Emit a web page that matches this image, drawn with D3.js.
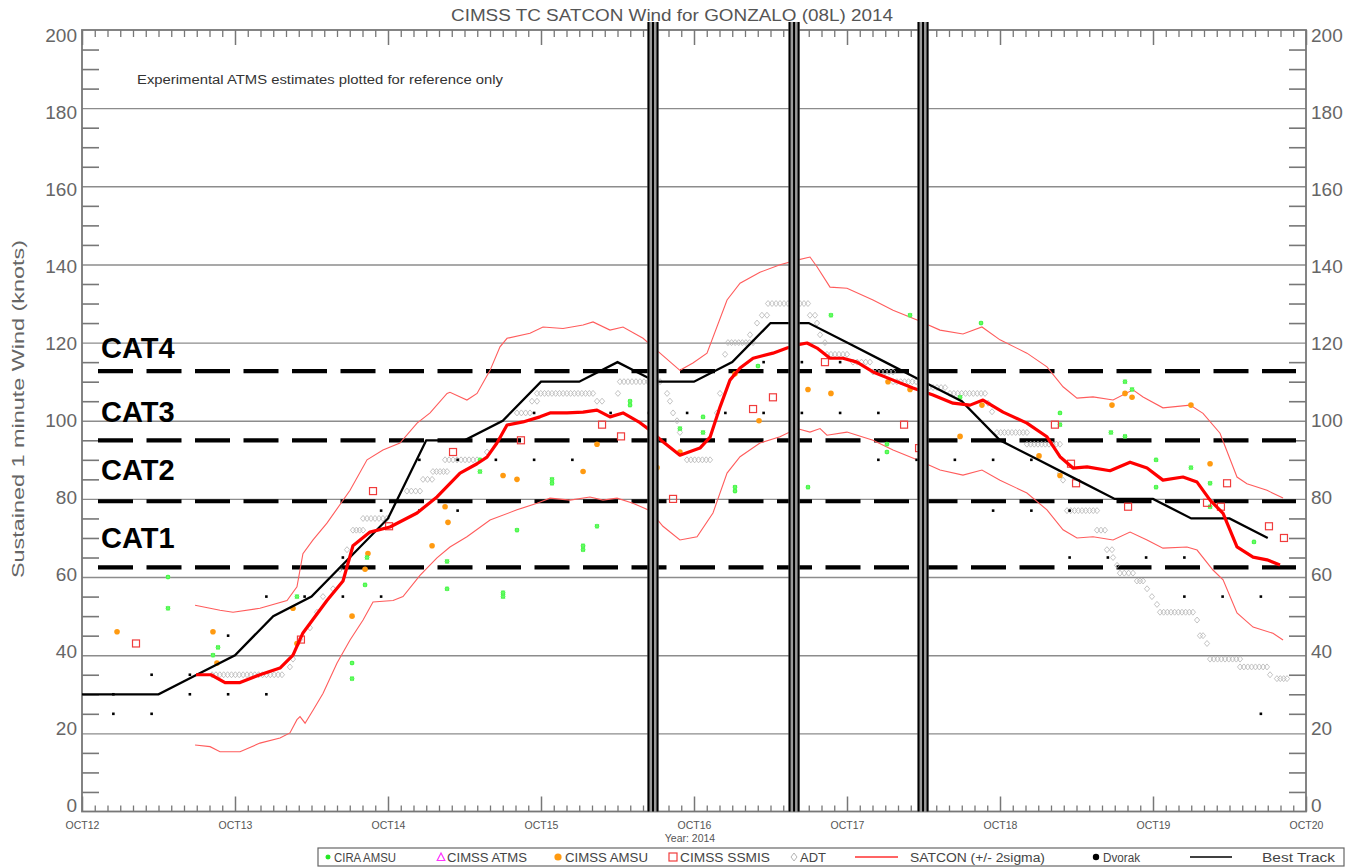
<!DOCTYPE html>
<html>
<head>
<meta charset="utf-8">
<script src="https://cdn.jsdelivr.net/npm/d3@7"></script>
<style>
  html, body { margin: 0; padding: 0; background: #fff; }
  svg { display: block; }
  text { font-family: "Liberation Sans", Arial, sans-serif; }
</style>
</head>
<body>
<svg id="chart" width="1347" height="867"></svg>
<script>
// ---------------- data (time = fractional day of October 2014, UTC) ----------------
const dayTicks = [12, 13, 14, 15, 16, 17, 18, 19, 20];
const dayTickLabels = ["OCT12", "OCT13", "OCT14", "OCT15", "OCT16", "OCT17", "OCT18", "OCT19", "OCT20"];
const windTicks = [0, 20, 40, 60, 80, 100, 120, 140, 160, 180, 200];

const categoryNames = ["CAT1", "CAT2", "CAT3", "CAT4"];
const categoryThresholds = [62.5, 79.4, 95.0, 112.7];

// times of missing-data markers
const gapTimes = [15.732, 16.654, 17.497];

// Best track, 6-hourly
const bestTrackTimes = [12.0, 12.25, 12.5, 12.75, 13.0, 13.25, 13.5, 13.75, 14.0, 14.25, 14.5, 14.75,
  15.0, 15.25, 15.5, 15.75, 16.0, 16.25, 16.5, 16.75, 17.0, 17.25, 17.5, 17.75,
  18.0, 18.25, 18.5, 18.75, 19.0, 19.25, 19.5, 19.75];
const bestTrackWinds = [30, 30, 30, 35, 40, 50, 55, 65, 75, 95, 95, 100,
  110, 110, 115, 110, 110, 115, 125, 125, 120, 115, 110, 105,
  95, 90, 85, 80, 80, 75, 75, 70];

// SATCON consensus estimate
const satconMean = [
  [12.745, 35], [12.843, 35], [12.935, 33], [13.033, 33], [13.163, 35], [13.294, 36.7],
  [13.379, 40], [13.444, 45.7], [13.601, 54], [13.706, 59], [13.771, 68], [13.882, 71.5],
  [14.013, 72.8], [14.190, 76.4], [14.320, 80.5], [14.471, 86.6], [14.582, 89], [14.647, 90.7],
  [14.712, 94.3], [14.778, 98.9], [14.882, 99.7], [14.993, 101], [15.059, 102], [15.170, 102],
  [15.275, 102.2], [15.366, 102.7], [15.451, 101], [15.536, 102], [15.647, 99.5], [15.712, 97.6],
  [15.797, 94.6], [15.908, 91.2], [16.039, 93], [16.105, 95.8], [16.170, 103.5], [16.235, 110.4],
  [16.301, 113.5], [16.386, 116], [16.516, 117.3], [16.608, 118.6], [16.673, 119.4], [16.739, 119.9],
  [16.804, 118.6], [16.889, 116], [16.974, 116], [17.065, 115], [17.170, 112.5], [17.301, 110.4],
  [17.431, 108.4], [17.562, 106.6], [17.693, 104.5], [17.804, 104], [17.889, 105.3], [18.020, 102.2],
  [18.176, 99.4], [18.307, 95.9], [18.392, 90.8], [18.477, 87.9], [18.569, 88.2], [18.719, 87.2],
  [18.850, 89.4], [18.961, 87.9], [19.065, 84.8], [19.196, 85.6], [19.288, 84.3], [19.373, 79.7],
  [19.458, 76.3], [19.549, 67.7], [19.654, 65.1], [19.745, 64.4], [19.830, 63.1]
];

// SATCON +2 sigma
const satconUpper = [
  [12.739, 52.8], [12.902, 51.5], [12.987, 51], [13.163, 52], [13.340, 54], [13.405, 57.5],
  [13.444, 66], [13.510, 69.5], [13.601, 73.8], [13.752, 82.2], [13.863, 90], [13.967, 92.5],
  [14.078, 94.3], [14.190, 99.4], [14.275, 102], [14.386, 107], [14.405, 107.3], [14.516, 105.3],
  [14.582, 107], [14.667, 112.9], [14.732, 118.9], [14.778, 121.1], [14.928, 122.4], [15.013, 124],
  [15.144, 123.6], [15.275, 124.5], [15.340, 125.3], [15.451, 123.2], [15.536, 124], [15.667, 121.1],
  [15.778, 117.3], [15.908, 112.9], [15.993, 114.8], [16.085, 117.3], [16.216, 130.9], [16.301, 135.2],
  [16.431, 138], [16.562, 139.9], [16.673, 141.1], [16.758, 141.9], [16.804, 139.4], [16.889, 134.2],
  [17.000, 133.9], [17.170, 130.9], [17.301, 128.3], [17.458, 125.8], [17.608, 123.2], [17.758, 122.2],
  [17.882, 124], [18.000, 120.7], [18.176, 117.3], [18.307, 113.8], [18.412, 108.7], [18.503, 105.8],
  [18.608, 106.1], [18.739, 105.3], [18.869, 107.9], [18.935, 106.1], [19.065, 103.3], [19.242, 104],
  [19.327, 101.9], [19.438, 96.8], [19.549, 85.6], [19.614, 83.9], [19.745, 82.2], [19.850, 80.2]
];

// SATCON -2 sigma
const satconLower = [
  [12.739, 17], [12.837, 16.6], [12.902, 15.3], [13.033, 15.3], [13.163, 17.5], [13.294, 18.8],
  [13.359, 20.1], [13.405, 23.5], [13.425, 24.3], [13.458, 22.6], [13.510, 25.9], [13.575, 30.2],
  [13.667, 38], [13.752, 43.9], [13.837, 49], [13.902, 53.6], [14.033, 54], [14.098, 55],
  [14.209, 60.4], [14.320, 64.9], [14.405, 67.7], [14.516, 70.3], [14.667, 74.6], [14.843, 77.2],
  [14.974, 78.9], [15.059, 80.2], [15.190, 79.7], [15.320, 80.5], [15.405, 79.7], [15.497, 80.2],
  [15.601, 78.9], [15.712, 77], [15.797, 73], [15.908, 69.5], [16.020, 70.3], [16.124, 76.4],
  [16.216, 86.6], [16.301, 90.8], [16.431, 94.3], [16.562, 95.9], [16.673, 98], [16.758, 97.1],
  [16.824, 98], [16.869, 96.3], [17.000, 97.1], [17.170, 95], [17.301, 92.5], [17.458, 90],
  [17.608, 87.4], [17.758, 86.1], [17.882, 87.4], [18.000, 84.8], [18.176, 81.5], [18.307, 77.2],
  [18.412, 72.1], [18.503, 70], [18.608, 70.3], [18.739, 69.5], [18.850, 71.5], [18.961, 69.5],
  [19.065, 67.4], [19.222, 67.7], [19.288, 66.9], [19.392, 61.8], [19.458, 59.3], [19.549, 50.8],
  [19.654, 47.2], [19.784, 45.6], [19.850, 43.9]
];

// ADT: spans of constant intensity [start, end, knots], reported every half hour
const adtRuns = [
  [12.850, 13.307, 35], [13.359, 13.359, 37], [13.379, 13.379, 39], [13.425, 13.425, 44],
  [13.490, 13.490, 47], [13.536, 13.536, 51], [13.575, 13.575, 55], [13.641, 13.641, 57],
  [13.686, 13.686, 62], [13.732, 13.732, 67], [13.771, 13.837, 72], [13.837, 13.993, 75],
  [14.124, 14.209, 82], [14.229, 14.288, 85], [14.294, 14.386, 87], [14.373, 14.582, 90],
  [14.647, 14.647, 92], [14.843, 14.928, 102], [14.941, 14.974, 105], [14.974, 15.340, 107],
  [15.366, 15.399, 105], [15.503, 15.503, 107], [15.516, 15.778, 110], [15.824, 15.824, 107],
  [15.843, 15.843, 105], [15.863, 15.863, 102], [15.889, 15.889, 100], [15.908, 15.908, 97],
  [15.954, 16.105, 90], [16.150, 16.150, 102], [16.170, 16.170, 107], [16.203, 16.203, 117],
  [16.222, 16.386, 120], [16.366, 16.366, 122], [16.412, 16.412, 125], [16.444, 16.477, 127],
  [16.484, 16.745, 130], [16.758, 16.791, 127], [16.804, 16.804, 125], [16.824, 16.824, 122],
  [16.856, 16.856, 120], [16.869, 17.000, 117], [17.039, 17.150, 115], [17.170, 17.301, 112.5],
  [17.301, 17.477, 110], [17.510, 17.641, 108.5], [17.673, 17.902, 107], [17.922, 17.922, 104.5],
  [17.948, 17.948, 102.3], [17.980, 18.176, 97], [18.176, 18.392, 94], [18.392, 18.392, 86.6],
  [18.412, 18.412, 84.8], [18.438, 18.634, 77], [18.634, 18.686, 72], [18.699, 18.732, 67],
  [18.739, 18.739, 65], [18.765, 18.765, 63], [18.784, 18.869, 61], [18.895, 18.935, 59],
  [18.961, 18.961, 57], [18.993, 18.993, 55], [19.026, 19.026, 53], [19.046, 19.261, 51],
  [19.288, 19.288, 49], [19.307, 19.327, 45], [19.353, 19.353, 43], [19.373, 19.569, 39],
  [19.569, 19.745, 37], [19.765, 19.765, 35], [19.810, 19.876, 34]
];

// Dvorak, 6-hourly
const dvorak = [
  [12.205, 30], [12.205, 25], [12.455, 35], [12.455, 25], [12.705, 35], [12.705, 30],
  [12.955, 45], [12.955, 30], [13.205, 55], [13.205, 30], [13.455, 55], [13.705, 65], [13.705, 55],
  [13.955, 55], [13.955, 77], [14.205, 90], [14.205, 77], [14.455, 90], [14.455, 77], [14.705, 90],
  [14.955, 90], [14.955, 102], [15.205, 90], [15.455, 102], [15.705, 102], [15.955, 102],
  [16.205, 102], [16.455, 102], [16.455, 115], [16.705, 115], [16.705, 102], [16.955, 115],
  [16.955, 102], [17.205, 102], [17.205, 90], [17.455, 90], [17.705, 90], [17.955, 90], [17.955, 77],
  [18.205, 90], [18.205, 77], [18.455, 77], [18.455, 65], [18.705, 65], [18.955, 65],
  [19.205, 65], [19.205, 55], [19.455, 55], [19.705, 55], [19.705, 25]
];

// CIRA AMSU
const ciraAmsu = [
  [12.562, 60], [12.562, 52], [12.889, 42], [12.856, 40], [13.405, 55], [13.765, 38], [13.765, 34],
  [13.863, 65], [13.850, 58], [14.386, 57], [14.386, 64], [14.601, 90], [14.601, 87], [14.752, 56],
  [14.752, 55], [14.843, 72], [15.072, 85], [15.072, 84], [15.275, 68], [15.275, 67], [15.366, 73],
  [15.582, 105], [15.582, 104], [15.752, 80], [15.908, 98], [16.059, 101], [16.059, 97],
  [16.268, 83], [16.268, 82], [16.418, 114], [16.745, 83], [16.895, 127], [17.261, 94], [17.261, 92],
  [17.412, 127], [17.739, 106], [17.876, 125], [18.392, 102], [18.392, 99], [18.725, 97],
  [18.817, 96], [18.817, 110], [18.863, 108], [19.020, 90], [19.020, 83], [19.248, 88],
  [19.373, 84], [19.373, 78], [19.660, 69]
];

// CIMSS AMSU
const cimssAmsu = [
  [12.229, 46], [12.856, 46], [12.882, 38], [13.379, 52], [13.405, 43], [13.765, 50], [13.869, 66],
  [13.850, 62], [14.288, 68], [14.373, 78], [14.392, 74], [14.752, 86], [14.843, 85], [15.275, 87],
  [15.366, 94], [15.758, 88], [15.908, 92], [16.268, 112], [16.425, 100], [16.745, 108],
  [16.895, 107], [17.268, 110], [17.412, 108], [17.739, 96], [17.882, 104], [18.255, 91],
  [18.392, 86], [18.732, 104], [18.817, 107], [18.863, 106], [19.248, 104], [19.373, 89]
];

// CIMSS SSMIS
const cimssSsmis = [
  [12.353, 43], [13.431, 44], [14.007, 73], [13.902, 82], [14.425, 92], [14.869, 95], [15.399, 99],
  [15.523, 96], [15.863, 80], [16.386, 103], [16.516, 106], [16.856, 115], [17.373, 99],
  [17.471, 93], [18.359, 99], [18.464, 89], [18.497, 84], [18.837, 78], [19.353, 79], [19.444, 78],
  [19.484, 84], [19.758, 73], [19.856, 70]
];

// ---------------- layout ----------------
const svg = d3.select("#chart");
const pL = 82, pR = 1306, pT = 30, pB = 811.5;
const x = d3.scaleLinear().domain([12, 20]).range([pL, pR]);
const y = d3.scaleLinear().domain([0, 200]).range([pB, pT]);
const axisColor = "#777";
const labelColor = "#555";

function styleAxis(g, color, width) {
  g.select(".domain").remove();
  g.selectAll(".tick line").attr("stroke", color).attr("stroke-width", width);
}

// horizontal grid
svg.append("g").attr("transform", `translate(${pL},0)`)
  .call(d3.axisLeft(y).tickValues(d3.range(20, 200, 20)).tickSize(-(pR - pL)).tickFormat(""))
  .call(g => styleAxis(g, "#8c8c8c", 1.4));

// minor wind ticks (every 5 kt) on both sides
const minorWind = d3.range(5, 200, 5).filter(v => v % 20 !== 0);
svg.append("g").attr("transform", `translate(${pL},0)`)
  .call(d3.axisLeft(y).tickValues(minorWind).tickSize(-17).tickFormat(""))
  .call(g => styleAxis(g, axisColor, 1.6));
svg.append("g").attr("transform", `translate(${pR},0)`)
  .call(d3.axisRight(y).tickValues(minorWind).tickSize(-17).tickFormat(""))
  .call(g => styleAxis(g, axisColor, 1.6));

// wind labels on both sides; the end labels sit just inside the frame
function styleWindLabels(g) {
  g.select(".domain").remove();
  g.selectAll("text").attr("font-size", 19).attr("fill", "#666")
    .attr("font-family", "Liberation Sans, Arial, sans-serif")
    .attr("y", d => -6 + d * 0.055);
}
svg.append("g").attr("transform", `translate(${pL},0)`)
  .call(d3.axisLeft(y).tickValues(windTicks).tickSize(0).tickPadding(5))
  .call(styleWindLabels);
svg.append("g").attr("transform", `translate(${pR},0)`)
  .call(d3.axisRight(y).tickValues(windTicks).tickSize(0).tickPadding(5))
  .call(styleWindLabels);

// time ticks: 2-hourly minor, daily major, top and bottom
const minorDays = d3.range(0, 96).filter(i => i % 12 !== 0).map(i => 12 + i / 12);
svg.append("g").attr("transform", `translate(0,${pB})`)
  .call(d3.axisBottom(x).tickValues(minorDays).tickSize(-6).tickFormat(""))
  .call(g => styleAxis(g, axisColor, 1.3));
svg.append("g").attr("transform", `translate(0,${pT})`)
  .call(d3.axisTop(x).tickValues(minorDays).tickSize(-7).tickFormat(""))
  .call(g => styleAxis(g, axisColor, 1.3));
svg.append("g").attr("transform", `translate(0,${pT})`)
  .call(d3.axisTop(x).tickValues(dayTicks).tickSize(-15).tickFormat(""))
  .call(g => styleAxis(g, axisColor, 1.5));
svg.append("g").attr("transform", `translate(0,${pB})`)
  .call(d3.axisBottom(x).tickValues(dayTicks).tickSize(-15).tickPadding(10)
    .tickFormat((d, i) => dayTickLabels[i]))
  .call(g => { styleAxis(g, axisColor, 1.5);
    g.selectAll("text").attr("font-size", 10.5).attr("fill", labelColor)
      .attr("font-family", "Liberation Sans, Arial, sans-serif"); });

// frame
svg.append("rect").attr("x", pL).attr("y", pT).attr("width", pR - pL).attr("height", pB - pT)
  .attr("fill", "none").attr("stroke", axisColor).attr("stroke-width", 1.8);

// category thresholds
svg.append("g").selectAll("line").data(categoryThresholds).join("line")
  .attr("x1", 98).attr("x2", 1296)
  .attr("y1", d => y(d)).attr("y2", d => y(d))
  .attr("stroke", "#000").attr("stroke-width", 4.2).attr("stroke-dasharray", "35 13.5");

// ADT diamonds
const adtPoints = [];
adtRuns.forEach(([t0, t1, v]) => {
  const n = Math.max(0, Math.round((t1 - t0) * 40));
  for (let i = 0; i <= n; i++) adtPoints.push([n === 0 ? t0 : t0 + (t1 - t0) * i / n, v]);
});
svg.append("g").selectAll("path").data(adtPoints).join("path")
  .attr("transform", d => `translate(${x(d[0])},${y(d[1])})`)
  .attr("d", "M0,-3L2.6,0L0,3L-2.6,0Z")
  .attr("fill", "none").attr("stroke", "#b4b4b4").attr("stroke-width", 0.8);

// SATCON +/- 2 sigma
const line = d3.line().x(d => x(d[0])).y(d => y(d[1]));
[satconUpper, satconLower].forEach(s => {
  svg.append("path").datum(s).attr("d", line)
    .attr("fill", "none").attr("stroke", "#ff5c5c").attr("stroke-width", 1.1);
});

// Dvorak
svg.append("g").selectAll("rect").data(dvorak).join("rect")
  .attr("x", d => x(d[0]) - 1.3).attr("y", d => y(d[1]) - 1.3)
  .attr("width", 2.6).attr("height", 2.6).attr("fill", "#000");

// CIMSS AMSU
svg.append("g").selectAll("circle").data(cimssAmsu).join("circle")
  .attr("cx", d => x(d[0])).attr("cy", d => y(d[1])).attr("r", 2.8)
  .attr("fill", "#ff9a10");

// CIRA AMSU
const star = "M-2.5,0H2.5M0,-2.5V2.5M-1.8,-1.8L1.8,1.8M-1.8,1.8L1.8,-1.8";
svg.append("g").selectAll("g").data(ciraAmsu).join("g")
  .attr("transform", d => `translate(${x(d[0])},${y(d[1])})`)
  .call(g => {
    g.append("rect").attr("x", -2).attr("y", -2).attr("width", 4).attr("height", 4).attr("fill", "#2ee82e");
    g.append("path").attr("d", star).attr("stroke", "#66ff66").attr("stroke-width", 1);
  });

// CIMSS SSMIS
svg.append("g").selectAll("rect").data(cimssSsmis).join("rect")
  .attr("x", d => x(d[0]) - 3.5).attr("y", d => y(d[1]) - 3.5)
  .attr("width", 7).attr("height", 7)
  .attr("fill", "none").attr("stroke", "#f03c3c").attr("stroke-width", 1.2);

// best track
svg.append("path").datum(d3.zip(bestTrackTimes, bestTrackWinds)).attr("d", line)
  .attr("fill", "none").attr("stroke", "#000").attr("stroke-width", 2.3);

// SATCON
svg.append("path").datum(satconMean).attr("d", line)
  .attr("fill", "none").attr("stroke", "#ff0000").attr("stroke-width", 3.2)
  .attr("stroke-linejoin", "round");

// data-gap markers
const gap = svg.append("g").selectAll("g").data(gapTimes).join("g")
  .attr("transform", d => `translate(${x(d)},0)`);
gap.append("rect").attr("x", -5.5).attr("y", 22).attr("width", 11).attr("height", pB - 22)
  .attr("fill", "#9a9a9a");
[-4.5, 0, 4.5].forEach(o => {
  gap.append("line").attr("x1", o).attr("x2", o).attr("y1", 22).attr("y2", pB)
    .attr("stroke", "#000").attr("stroke-width", 2);
});

// category labels
const catOffsets = [19, 21, 18, 13];
svg.append("g").selectAll("text").data(categoryNames).join("text")
  .attr("x", 101).attr("y", (d, i) => y(categoryThresholds[i]) - catOffsets[i])
  .attr("font-size", 29).attr("font-weight", "bold").attr("fill", "#000")
  .text(d => d);

// titles and notes
svg.append("text").attr("x", 672).attr("y", 21).attr("text-anchor", "middle")
  .attr("font-size", 16).attr("fill", labelColor)
  .attr("textLength", 442).attr("lengthAdjust", "spacingAndGlyphs")
  .text("CIMSS TC SATCON Wind for GONZALO (08L) 2014");
svg.append("text").attr("x", 137).attr("y", 84)
  .attr("font-size", 12).attr("fill", "#333")
  .attr("textLength", 366).attr("lengthAdjust", "spacingAndGlyphs")
  .text("Experimental ATMS estimates plotted for reference only");
svg.append("text").attr("transform", "translate(24,409) rotate(-90)").attr("text-anchor", "middle")
  .attr("font-size", 16).attr("fill", "#666")
  .attr("textLength", 338).attr("lengthAdjust", "spacingAndGlyphs")
  .text("Sustained 1 minute Wind (knots)");
svg.append("text").attr("x", 690).attr("y", 842).attr("text-anchor", "middle")
  .attr("font-size", 10.5).attr("fill", labelColor)
  .text("Year: 2014");

// legend
const lg = svg.append("g");
lg.append("rect").attr("x", 318).attr("y", 848).attr("width", 1026).attr("height", 18)
  .attr("fill", "#fff").attr("stroke", "#666").attr("stroke-width", 1.2);
const ly = 857;
const legendText = [
  { t: "CIRA AMSU", x: 334, w: 62 },
  { t: "CIMSS ATMS", x: 447, w: 80 },
  { t: "CIMSS AMSU", x: 565, w: 83 },
  { t: "CIMSS SSMIS", x: 680, w: 90 },
  { t: "ADT", x: 800, w: 26 },
  { t: "SATCON (+/- 2sigma)", x: 910, w: 135 },
  { t: "Dvorak", x: 1103, w: 37 },
  { t: "Best Track", x: 1262, w: 73 }
];
lg.selectAll("text").data(legendText).join("text")
  .attr("x", d => d.x).attr("y", ly + 4.5).attr("font-size", 12.5).attr("fill", "#444")
  .attr("textLength", d => d.w).attr("lengthAdjust", "spacingAndGlyphs")
  .text(d => d.t);
lg.append("path").attr("transform", `translate(328,${ly})`).attr("d", star)
  .attr("stroke", "#22e822").attr("stroke-width", 1.3);
lg.append("path").attr("transform", `translate(441,${ly})`).attr("d", "M0,-4L3.8,3.5H-3.8Z")
  .attr("fill", "none").attr("stroke", "#ff33ff").attr("stroke-width", 1.2);
lg.append("circle").attr("cx", 558).attr("cy", ly).attr("r", 3.6).attr("fill", "#ff9a10");
lg.append("rect").attr("x", 669).attr("y", ly - 4).attr("width", 8).attr("height", 8)
  .attr("fill", "none").attr("stroke", "#f03c3c").attr("stroke-width", 1.2);
lg.append("path").attr("transform", `translate(794,${ly})`).attr("d", "M0,-4L3,0L0,4L-3,0Z")
  .attr("fill", "none").attr("stroke", "#b4b4b4").attr("stroke-width", 1);
lg.append("line").attr("x1", 855).attr("x2", 898).attr("y1", ly).attr("y2", ly)
  .attr("stroke", "#ff3030").attr("stroke-width", 1.3);
lg.append("circle").attr("cx", 1096).attr("cy", ly).attr("r", 3.2).attr("fill", "#000");
lg.append("line").attr("x1", 1190).attr("x2", 1232).attr("y1", ly).attr("y2", ly)
  .attr("stroke", "#000").attr("stroke-width", 1.3);
</script>
</body>
</html>
